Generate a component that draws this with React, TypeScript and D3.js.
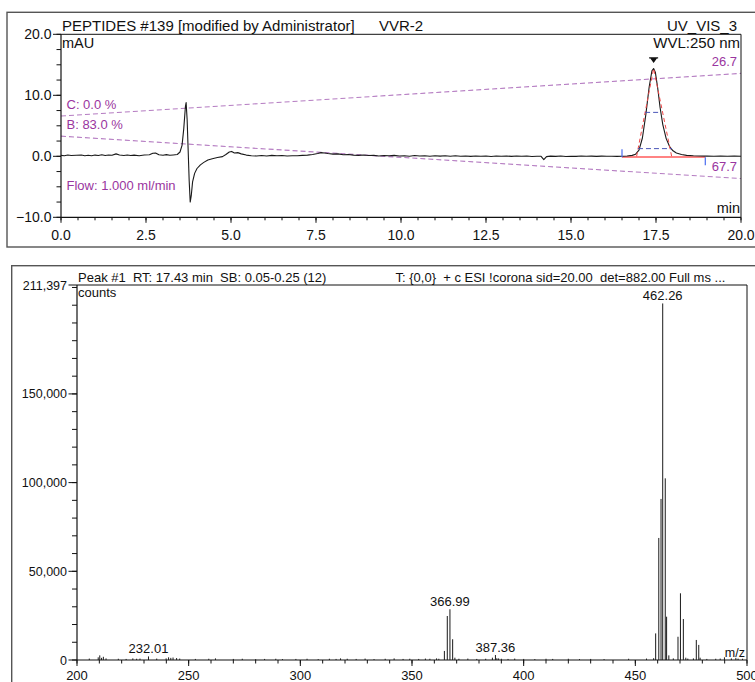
import React from "react";
import * as d3 from "d3";

const W = 755;
const H = 682;
const FONT = "'Liberation Sans', Arial, Helvetica, sans-serif";
const PURPLE = "#9a35a0";
const PURPLE_LINE = "#b57cc2";

// ---------- UV chromatogram (time in min, absorbance in mAU) ----------
const uvTrace: [number, number][] = [
  [0.0, 0.15], [0.1, 0.1], [0.2, 0.2], [0.3, 0.12], [0.45, 0.18], [0.6, 0.2], [0.7, 0.1],
  [0.8, 0.16], [0.9, 0.08], [1.0, 0.2], [1.1, 0.14], [1.2, 0.25], [1.3, 0.12], [1.4, 0.2],
  [1.5, 0.16], [1.62, 0.4], [1.72, 0.22], [1.85, 0.12], [1.95, 0.22], [2.05, 0.14],
  [2.15, 0.2], [2.3, 0.1], [2.45, 0.22], [2.6, 0.25], [2.7, 0.5], [2.78, 0.55], [2.88, 0.25],
  [3.0, 0.18], [3.1, 0.28], [3.2, 0.16], [3.3, 0.22], [3.42, 0.3], [3.5, 0.7], [3.56, 1.8],
  [3.61, 4.5], [3.66, 8.2], [3.68, 8.8], [3.71, 6.0], [3.74, 1.0], [3.77, -4.0], [3.8, -7.5],
  [3.83, -6.5], [3.87, -4.2], [3.93, -2.8], [4.0, -2.0], [4.1, -1.4], [4.2, -1.0],
  [4.32, -0.6], [4.45, -0.4], [4.6, -0.2], [4.75, -0.05], [4.85, 0.3], [4.95, 0.7],
  [5.02, 0.8], [5.1, 0.55], [5.2, 0.6], [5.3, 0.4], [5.45, 0.2], [5.6, 0.1], [5.75, 0.05],
  [5.9, 0.12], [6.05, 0.05], [6.2, 0.15], [6.35, 0.08], [6.5, 0.12], [6.65, 0.05],
  [6.8, 0.1], [6.95, 0.08], [7.1, 0.15], [7.25, 0.2], [7.4, 0.3], [7.55, 0.45], [7.65, 0.6],
  [7.75, 0.55], [7.85, 0.45], [8.0, 0.35], [8.15, 0.4], [8.3, 0.25], [8.45, 0.3], [8.6, 0.2],
  [8.75, 0.15], [8.9, 0.22], [9.05, 0.12], [9.2, 0.15], [9.35, 0.05], [9.5, 0.12],
  [9.65, 0.08], [9.8, 0.15], [9.95, 0.05], [10.1, 0.1], [10.25, 0.02], [10.4, 0.12],
  [10.55, 0.05], [10.7, 0.1], [10.85, 0.0], [11.0, 0.08], [11.15, 0.03], [11.3, 0.1],
  [11.45, 0.02], [11.6, 0.08], [11.75, 0.0], [11.9, 0.06], [12.05, -0.02], [12.2, 0.05],
  [12.35, 0.0], [12.5, 0.06], [12.65, -0.03], [12.8, 0.04], [12.95, 0.0], [13.1, 0.06],
  [13.25, -0.02], [13.4, 0.05], [13.55, 0.0], [13.7, 0.04], [13.85, -0.03], [14.0, 0.02],
  [14.12, 0.0], [14.2, -0.55], [14.28, -0.05], [14.4, 0.03], [14.55, -0.02], [14.7, 0.04],
  [14.85, -0.03], [15.0, 0.02], [15.15, -0.02], [15.3, 0.04], [15.45, 0.0], [15.6, 0.03],
  [15.75, -0.02], [15.9, 0.03], [16.05, 0.0], [16.2, 0.02], [16.35, -0.02], [16.5, 0.02],
  [16.65, 0.05], [16.8, 0.15], [16.9, 0.35], [17.0, 1.0], [17.1, 3.0], [17.2, 6.8],
  [17.3, 11.4], [17.38, 14.0], [17.43, 14.4], [17.48, 13.8], [17.55, 11.2], [17.62, 8.0],
  [17.7, 5.2], [17.8, 2.9], [17.9, 1.6], [18.0, 0.9], [18.1, 0.55], [18.25, 0.3],
  [18.4, 0.15], [18.6, 0.08], [18.8, 0.05], [19.0, 0.03], [19.2, 0.0], [19.4, 0.04],
  [19.6, 0.0], [19.8, 0.03], [20.0, 0.01],
];

// Solvent gradient profiles, drawn in the chromatogram's units
const gradientC: [number, number][] = [[0, 6.6], [20, 13.6]];
const gradientB: [number, number][] = [[0, 3.3], [20, -3.65]];

const uvTimeTicks = [0, 2.5, 5, 7.5, 10, 12.5, 15, 17.5, 20];
const uvTimeMinor = d3.range(0, 20.001, 0.5);
const uvValueTicks = [-10, 0, 10, 20];
const uvValueMinor = d3.range(-10, 20.001, 2.5);

// Integrated peak: apex, delimiters, width levels and tangent feet
const peakApex: [number, number] = [17.43, 14.4];
const peakBounds = [16.5, 18.95];
const peakHalfWidth: [number, number, number] = [17.18, 17.65, 7.2];
const peakBaseWidth: [number, number, number] = [16.97, 17.97, 1.26];
const peakTangentFeet = [16.93, 17.96];

// ---------- Mass spectrum (m/z, counts) ----------
const spectrum: [number, number][] = [
  [205.5, 800], [209.5, 1500], [210.2, 2600], [211.0, 1200], [211.8, 1800], [213.0, 900],
  [218.5, 700], [222.0, 600], [225.0, 900], [226.7, 700], [228.2, 800], [232.01, 2000],
  [235.7, 800], [239.9, 900], [241.0, 1500], [242.0, 1200], [243.0, 1400], [244.6, 1100],
  [246.0, 800], [253.0, 600], [259.0, 700], [262.0, 900], [270.0, 600], [274.0, 700],
  [280.0, 500], [284.0, 600], [289.0, 700], [292.0, 500], [298.0, 600], [303.0, 700],
  [308.0, 500], [313.0, 700], [316.0, 600], [318.0, 900], [321.0, 700], [325.0, 600],
  [329.0, 800], [333.0, 500], [338.0, 700], [342.0, 900], [346.0, 600], [349.0, 700],
  [353.0, 600], [356.0, 800], [358.0, 700], [361.0, 900], [362.0, 700],
  [364.5, 5100], [365.8, 24800], [366.99, 28600], [368.2, 11700], [369.2, 1300],
  [371.0, 700], [375.0, 800], [379.0, 600], [383.0, 700], [386.0, 1300], [387.36, 2800],
  [388.0, 1000], [388.8, 900], [390.0, 700], [393.0, 600], [396.0, 800], [400.0, 600],
  [405.0, 500], [410.0, 700], [413.0, 600], [420.0, 700], [425.0, 500], [430.0, 600],
  [436.0, 500], [447.0, 700], [455.0, 800], [458.2, 1000], [459.1, 15000],
  [460.5, 68800], [461.5, 90800], [462.26, 201000], [463.4, 102400], [464.0, 24400],
  [465.0, 2600], [467.0, 900], [469.1, 13100], [470.2, 37600], [471.5, 23100],
  [472.6, 1300], [473.5, 800], [476.0, 900], [477.3, 11300], [478.4, 8500], [479.0, 1300],
  [482.0, 600], [486.0, 700], [488.0, 800], [489.9, 1500], [493.0, 900], [495.0, 1200],
  [496.0, 800], [498.0, 700],
];
const labelledMz = [232.01, 366.99, 387.36, 462.26];
const msMax = 211397;
const msMajorTicks = [0, 50000, 100000, 150000];
const msMinorTicks = d3.range(0, 211000, 10000);
const mzTicks = [200, 250, 300, 350, 400, 450, 500];
const mzMinor = d3.range(200, 501, 10);

export default function App() {
  // chromatogram scales
  const tx = d3.scaleLinear().domain([0, 20]).range([61, 741]);
  const ty = d3.scaleLinear().domain([-10, 20]).range([217.3, 34.3]);
  const uvLine = d3
    .line<[number, number]>()
    .x((d) => tx(d[0]))
    .y((d) => ty(d[1]));

  // spectrum scales
  const mx = d3.scaleLinear().domain([200, 500]).range([77, 747]);
  const my = d3.scaleLinear().domain([0, msMax]).range([660, 285]);

  const fmtComma = d3.format(",");
  const fmt1 = d3.format(".1f");

  const [apexT, apexV] = peakApex;

  return (
    <svg
      width={W}
      height={H}
      style={{ position: "absolute", left: 0, top: 0, background: "#fff" }}
      fontFamily={FONT}
    >
      <rect x={0} y={0} width={W} height={H} fill="#fff" />

      {/* ================= Chromatogram panel ================= */}
      <rect x={7} y={12.3} width={760} height={234.7} fill="none" stroke="#555" strokeWidth={1.4} />

      <text x={62} y={30.8} fontSize={15} fill="#111">
        PEPTIDES #139 [modified by Administrator]
      </text>
      <text x={379} y={30.8} fontSize={15} fill="#111">VVR-2</text>
      <text x={737} y={30.8} fontSize={15} fill="#111" textAnchor="end">UV_VIS_3</text>

      {/* gradient profiles */}
      <path d={uvLine(gradientC) ?? ""} fill="none" stroke={PURPLE_LINE} strokeWidth={1.1} strokeDasharray="5,3" />
      <path d={uvLine(gradientB) ?? ""} fill="none" stroke={PURPLE_LINE} strokeWidth={1.1} strokeDasharray="5,3" />

      {/* frame */}
      <path d={`M${tx(0)},${ty(20)}H${tx(20)}V${ty(-10)}`} fill="none" stroke="#111" strokeWidth={1} />
      <line x1={tx(0)} x2={tx(0)} y1={ty(20)} y2={ty(-10)} stroke="#111" strokeWidth={1.2} />
      <line x1={tx(0)} x2={tx(20)} y1={ty(-10)} y2={ty(-10)} stroke="#111" strokeWidth={1.2} />

      {/* y ticks */}
      {uvValueMinor.map((v) => (
        <line key={`ym${v}`} x1={tx(0) - 4.5} x2={tx(0)} y1={ty(v)} y2={ty(v)} stroke="#111" />
      ))}
      {uvValueTicks.map((v) => (
        <g key={`y${v}`}>
          <line x1={tx(0) - 8} x2={tx(0)} y1={ty(v)} y2={ty(v)} stroke="#111" />
          <text x={51.5} y={ty(v) + 5} fontSize={14} textAnchor="end" fill="#111">
            {fmt1(v)}
          </text>
        </g>
      ))}

      {/* x ticks */}
      {uvTimeMinor.map((t) => (
        <line key={`xm${t}`} x1={tx(t)} x2={tx(t)} y1={ty(-10)} y2={ty(-10) + 3} stroke="#111" />
      ))}
      {uvTimeTicks.map((t) => (
        <g key={`x${t}`}>
          <line x1={tx(t)} x2={tx(t)} y1={ty(-10)} y2={ty(-10) + 5.5} stroke="#111" />
          <text x={tx(t)} y={240} fontSize={14} textAnchor="middle" fill="#111">
            {fmt1(t)}
          </text>
        </g>
      ))}

      <text x={62} y={48} fontSize={14.5} fill="#111">mAU</text>
      <text x={740} y={48} fontSize={15} fill="#111" textAnchor="end">WVL:250 nm</text>
      <text x={740} y={213} fontSize={14.5} fill="#111" textAnchor="end">min</text>

      <text x={66.5} y={109} fontSize={13} fill={PURPLE}>C: 0.0 %</text>
      <text x={66.5} y={129} fontSize={13} fill={PURPLE}>B: 83.0 %</text>
      <text x={66.5} y={190} fontSize={13} fill={PURPLE}>Flow: 1.000 ml/min</text>
      <text x={737} y={65.5} fontSize={13} fill={PURPLE} textAnchor="end">26.7</text>
      <text x={737} y={170.5} fontSize={13} fill={PURPLE} textAnchor="end">67.7</text>

      {/* peak integration baseline */}
      <line
        x1={tx(peakBounds[0])}
        x2={tx(peakBounds[1])}
        y1={ty(0) + 0.6}
        y2={ty(0) + 0.6}
        stroke="#ff5a5a"
        strokeOpacity={0.75}
        strokeWidth={2}
      />

      {/* trace */}
      <path d={uvLine(uvTrace) ?? ""} fill="none" stroke="#1a1a1a" strokeWidth={1.1} strokeLinejoin="round" />

      {/* tangents to peak flanks */}
      <path
        d={`M${tx(peakTangentFeet[0])},${ty(0)}L${tx(apexT)},${ty(apexV)}L${tx(peakTangentFeet[1])},${ty(0)}`}
        fill="none"
        stroke="#f04848"
        strokeWidth={1}
        strokeDasharray="4,3"
      />
      {/* width levels */}
      <line
        x1={tx(peakHalfWidth[0])}
        x2={tx(peakHalfWidth[1])}
        y1={ty(peakHalfWidth[2])}
        y2={ty(peakHalfWidth[2])}
        stroke="#4a56b8"
        strokeWidth={1}
        strokeDasharray="5,3"
      />
      <line
        x1={tx(peakBaseWidth[0])}
        x2={tx(peakBaseWidth[1])}
        y1={ty(peakBaseWidth[2])}
        y2={ty(peakBaseWidth[2])}
        stroke="#4a56b8"
        strokeWidth={1}
        strokeDasharray="5,3"
      />
      {/* peak delimiters */}
      <line x1={tx(peakBounds[0])} x2={tx(peakBounds[0])} y1={ty(0) - 7} y2={ty(0) + 1} stroke="#4a6cf0" strokeWidth={1.2} />
      <line x1={tx(peakBounds[1])} x2={tx(peakBounds[1])} y1={ty(0) + 1} y2={ty(0) + 9} stroke="#4a6cf0" strokeWidth={1.2} />
      {/* apex marker */}
      <path
        d={`M${tx(apexT) - 4.5},${ty(apexV) - 10.5}H${tx(apexT) + 4.5}M${tx(apexT) - 2.5},${ty(apexV) - 10}L${tx(apexT)},${ty(apexV) - 6.5}L${tx(apexT) + 2.5},${ty(apexV) - 10}Z`}
        fill="#111"
        stroke="#111"
        strokeWidth={1.3}
      />

      {/* ================= Mass spectrum panel ================= */}
      <rect x={11.7} y={265.7} width={760} height={430} fill="none" stroke="#555" strokeWidth={1.4} />

      <text x={78} y={281.7} fontSize={13} fill="#111" style={{ whiteSpace: "pre" }}>
        {"Peak #1  RT: 17.43 min  SB: 0.05-0.25 (12)"}
      </text>
      <text x={395.5} y={281.7} fontSize={13} fill="#111" style={{ whiteSpace: "pre" }}>
        {"T: {0,0}  + c ESI !corona sid=20.00  det=882.00 Full ms ..."}
      </text>

      {/* frame */}
      <path d={`M${mx(200)},${my(msMax)}H${mx(500)}V${my(0)}`} fill="none" stroke="#111" strokeWidth={1} />
      <line x1={mx(200)} x2={mx(200)} y1={my(msMax)} y2={my(0)} stroke="#111" strokeWidth={1.2} />
      <line x1={mx(200)} x2={mx(500)} y1={my(0)} y2={my(0)} stroke="#111" strokeWidth={1.2} />

      {/* y ticks */}
      {msMinorTicks.map((v) => (
        <line key={`mym${v}`} x1={mx(200) - 5} x2={mx(200)} y1={my(v)} y2={my(v)} stroke="#111" />
      ))}
      {[...msMajorTicks, msMax].map((v) => (
        <g key={`my${v}`}>
          <line x1={mx(200) - 8.5} x2={mx(200)} y1={my(v)} y2={my(v)} stroke="#111" />
          <text x={67} y={my(v) + 4.5} fontSize={12.5} textAnchor="end" fill="#111">
            {fmtComma(v)}
          </text>
        </g>
      ))}

      {/* x ticks */}
      {mzMinor.map((m) => (
        <line key={`mxm${m}`} x1={mx(m)} x2={mx(m)} y1={my(0)} y2={my(0) + 3.5} stroke="#111" />
      ))}
      {mzTicks.map((m) => (
        <g key={`mx${m}`}>
          <line x1={mx(m)} x2={mx(m)} y1={my(0)} y2={my(0) + 6} stroke="#111" />
          <text x={mx(m)} y={679.5} fontSize={13} textAnchor="middle" fill="#111">
            {m}
          </text>
        </g>
      ))}

      <text x={78} y={297} fontSize={13} fill="#111">counts</text>
      <text x={745} y={657} fontSize={12.5} fill="#111" textAnchor="end">m/z</text>

      {/* centroid sticks */}
      {spectrum.map(([m, c]) => (
        <line key={`s${m}`} x1={mx(m)} x2={mx(m)} y1={my(0)} y2={my(c)} stroke="#1a1a1a" strokeWidth={1} />
      ))}
      {spectrum
        .filter(([m]) => labelledMz.includes(m))
        .map(([m, c]) => (
          <text key={`l${m}`} x={mx(m)} y={my(c) - 3.5} fontSize={13} textAnchor="middle" fill="#111">
            {m.toFixed(2)}
          </text>
        ))}
    </svg>
  );
}
